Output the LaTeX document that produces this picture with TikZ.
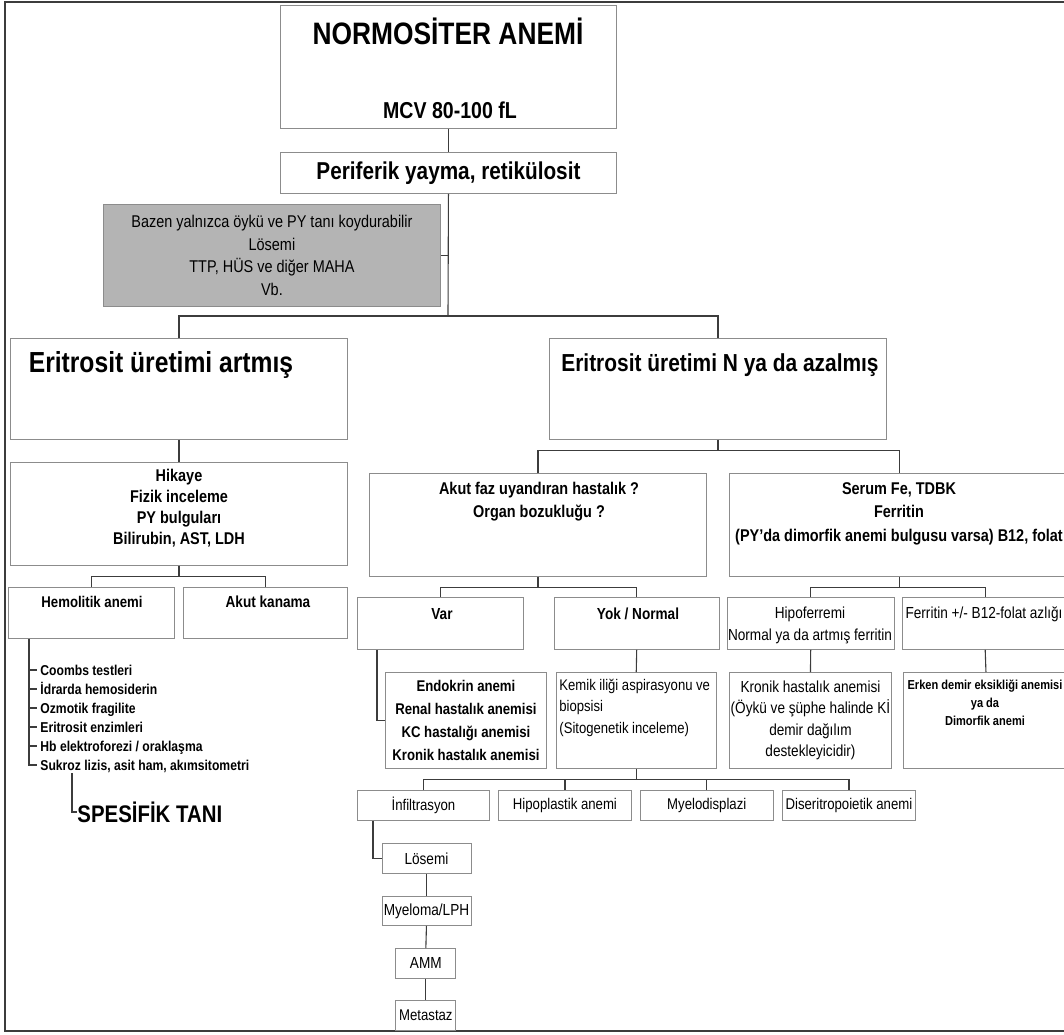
\documentclass[tikz,border=0pt]{standalone}
\usepackage{fontspec}
\setmainfont{Liberation Sans}[FakeStretch=0.85]
\begin{document}
\begin{tikzpicture}[x=1pt, y=-1pt, line width=0.9pt,
    kutu/.style={draw=kenar, anchor=north west, inner sep=0pt, align=center},
    hat/.style={draw=hatrenk, line width=1.1pt},
    yazi/.style={inner sep=0pt, align=center}]
    \definecolor{kenar}{HTML}{8C8C8C}
    \definecolor{hatrenk}{HTML}{3C3C3C}
    \definecolor{gri}{HTML}{B4B4B4}

    \useasboundingbox (0,0) rectangle (1064,1034);
    \clip (0,0) rectangle (1064,1034);
    \draw[hat, line width=1.3pt] (1070,2) -- (5,2) -- (5,1031) -- (1070,1031); % outer frame

    % top of the chart
    \node[kutu, minimum width=336, minimum height=123] (baslik) at (280,5) {};
    \node[yazi, font=\fontsize{31}{35}\selectfont\bfseries] (baslikust) at (448,31) {NORMOSİTER ANEMİ};
    \node[yazi, font=\fontsize{23}{27}\selectfont\bfseries] (mcv) at (450,110) {MCV 80-100 fL};
    \node[kutu, minimum width=336, minimum height=41, font=\fontsize{24.4}{28}\selectfont\bfseries] (peri) at (280,152) {Periferik yayma, retikülosit};
    \node[kutu, fill=gri, minimum width=337, minimum height=102, font=\fontsize{17}{22.7}\selectfont] (bazen) at (103,204)
        {Bazen yalnızca öykü ve PY tanı koydurabilir\\Lösemi\\TTP, HÜS ve diğer MAHA\\Vb.};

    \coordinate (catal1) at (448,316);
    \draw[hat] (baslik.south) -- (peri.north);
    \draw[hat] (peri.south) -- (catal1);
    \draw[hat] (bazen.east) -- (bazen.east -| catal1);

    \node[kutu, minimum width=337, minimum height=101] (artmis) at (10,338) {};
    \node[yazi, font=\fontsize{29}{33}\selectfont\bfseries] (artmisyazi) at (161,365) {Eritrosit üretimi artmış};
    \node[kutu, minimum width=337, minimum height=101] (azalmis) at (549,338) {};
    \node[yazi, font=\fontsize{24.6}{29}\selectfont\bfseries] (azalmisyazi) at (720,365) {Eritrosit üretimi N ya da azalmış};
    \draw[hat] (artmis.north) |- (catal1) -| (azalmis.north);

    % left branch
    \node[kutu, minimum width=337, minimum height=103] (hikaye) at (10,462) {};
    \node[yazi, font=\fontsize{17}{21}\selectfont\bfseries] (hikayeyazi) at (179,508.5)
        {Hikaye\\Fizik inceleme\\PY bulguları\\Bilirubin, AST, LDH};
    \draw[hat] (artmis.south) -- (hikaye.north);
    \node[kutu, minimum width=166, minimum height=51] (hemolitik) at (8,587) {};
    \node[yazi, font=\fontsize{15.5}{19}\selectfont\bfseries] (hemoyazi) at (92,602) {Hemolitik anemi};
    \node[kutu, minimum width=164, minimum height=51] (kanama) at (183,587) {};
    \node[yazi, font=\fontsize{16}{19}\selectfont\bfseries] (kanamayazi) at (268,602) {Akut kanama};
    \draw[hat] (hikaye.south) -- ++(0,11) coordinate (catal2);
    \draw[hat] (hemolitik.north) |- (catal2) -| (kanama.north);

    \coordinate (liste) at ([xshift=21]hemolitik.south west);
    \foreach \ad/\metin [count=\i from 0] in {coombs/Coombs testleri, idrar/İdrarda hemosiderin,
        ozmotik/Ozmotik fragilite, enzim/Eritrosit enzimleri, hbelek/{Hb elektroforezi / oraklaşma},
        sukroz/{Sukroz lizis, asit ham, akımsitometri}}
        \node[yazi, anchor=base west, font=\fontsize{14.3}{16}\selectfont\bfseries] (\ad) at (40,675+19*\i) {\metin};
    \foreach \ad in {coombs, idrar, ozmotik, enzim, hbelek}
        \draw[hat] ([yshift=5]\ad.base west -| liste) -- ([xshift=-3,yshift=5]\ad.base west);
    \draw[hat] (liste) |- ([xshift=-3,yshift=5]sukroz.base west);

    \node[yazi, anchor=west, font=\fontsize{24}{28}\selectfont\bfseries] (tani) at (77,812) {SPESİFİK TANI};
    \coordinate (tanibas) at (72,773);
    \draw[hat] (tanibas) |- (tani.west);

    % right branch
    \node[kutu, minimum width=337, minimum height=103] (akutfaz) at (369,473) {};
    \node[yazi, font=\fontsize{17}{23}\selectfont\bfseries] (akutfazyazi) at (539,501.5) {Akut faz uyandıran hastalık ?\\Organ bozukluğu ?};
    \node[kutu, minimum width=340, minimum height=103] (serum) at (729,473) {};
    \node[yazi, font=\fontsize{17}{23.5}\selectfont\bfseries] (serumyazi) at (899,513.5) {Serum Fe, TDBK\\Ferritin\\(PY'da dimorfik anemi bulgusu varsa) B12, folat};
    \draw[hat] (azalmis.south) -- ++(0,11) coordinate (catal3);
    \draw[hat] (akutfaz.north) |- (catal3) -| (serum.north);

    \node[kutu, minimum width=165.5, minimum height=52] (var) at (357,597) {};
    \node[yazi, font=\fontsize{16}{19}\selectfont\bfseries] (varyazi) at (442,614) {Var};
    \node[kutu, minimum width=165.5, minimum height=52] (yok) at (553.5,597) {};
    \node[yazi, font=\fontsize{16}{19}\selectfont\bfseries] (yokyazi) at (638,614) {Yok / Normal};
    \draw[hat] (akutfaz.south) -- ++(0,11) coordinate (catal4);
    \draw[hat] (var.north) |- (catal4) -| (yok.north);

    \node[kutu, minimum width=166.5, minimum height=52] (hipofer) at (727,597) {};
    \node[yazi, font=\fontsize{16}{22}\selectfont] (hipoferyazi) at (810,625) {Hipoferremi\\Normal ya da artmış ferritin};
    \node[kutu, minimum width=166.5, minimum height=52] (ferritin) at (901.5,597) {};
    \node[yazi, font=\fontsize{16}{19}\selectfont] (ferritinyazi) at (984,614) {Ferritin +/- B12-folat azlığı};
    \draw[hat] (serum.south) -- ++(0,11) coordinate (catal5);
    \draw[hat] (hipofer.north) |- (catal5) -| (ferritin.north);

    \node[kutu, minimum width=161, minimum height=96, font=\fontsize{15.5}{22.7}\selectfont\bfseries] (endokrin) at (385,672)
        {Endokrin anemi\\Renal hastalık anemisi\\KC hastalığı anemisi\\Kronik hastalık anemisi};
    \node[kutu, minimum width=160.4, minimum height=96] (kemik) at (555.6,672) {};
    \node[yazi, anchor=west, align=left, font=\fontsize{15.4}{21.5}\selectfont] (kemikyazi) at (559,707.5)
        {Kemik iliği aspirasyonu ve\\biopsisi\\(Sitogenetik inceleme)};
    \node[kutu, minimum width=162, minimum height=96, font=\fontsize{16}{21.3}\selectfont] (kronik) at (729,672)
        {Kronik hastalık anemisi\\(Öykü ve şüphe halinde Kİ\\demir dağılım\\destekleyicidir)};
    \node[kutu, minimum width=165, minimum height=96] (erken) at (903,672) {};
    \node[yazi, font=\fontsize{13}{18}\selectfont\bfseries] (erkenyazi) at (985,703) {Erken demir eksikliği anemisi\\ya da\\Dimorfik anemi};
    \draw[hat] ([xshift=20]var.south west) |- (endokrin.west);
    \draw[hat] (yok.south) -- (kemik.north);
    \draw[hat] (hipofer.south) -- (kronik.north);
    \draw[hat] (ferritin.south) -- (erken.north);

    % bone marrow results
    \node[kutu, minimum width=132, minimum height=30, font=\fontsize{15.5}{19}\selectfont] (infil) at (357,790) {İnfiltrasyon};
    \node[kutu, minimum width=133, minimum height=30, font=\fontsize{15.5}{19}\selectfont] (hipoplas) at (498,790) {Hipoplastik anemi};
    \node[kutu, minimum width=132.6, minimum height=30, font=\fontsize{15.5}{19}\selectfont] (myelod) at (640,790) {Myelodisplazi};
    \node[kutu, minimum width=133, minimum height=30, font=\fontsize{15.5}{19}\selectfont] (diserit) at (782,790) {Diseritropoietik anemi};
    \draw[hat] (kemik.south) -- ++(0,11) coordinate (catal6);
    \draw[hat] (infil.north) |- (catal6) -| (diserit.north);
    \draw[hat] (hipoplas.north) |- (catal6);
    \draw[hat] (myelod.north) |- (catal6);

    \node[kutu, minimum width=89, minimum height=30, font=\fontsize{16}{19}\selectfont] (losemi) at (381.5,843) {Lösemi};
    \node[kutu, minimum width=89, minimum height=29, font=\fontsize{16}{19}\selectfont] (myeloma) at (381.5,896) {Myeloma/LPH};
    \node[kutu, minimum width=60, minimum height=30, font=\fontsize{16}{19}\selectfont] (amm) at (395.4,948) {AMM};
    \node[kutu, minimum width=60, minimum height=30, font=\fontsize{15.5}{19}\selectfont] (metastaz) at (395.4,1000) {Metastaz};
    \draw[hat] ([xshift=16]infil.south west) |- (losemi.west);
    \draw[hat] (losemi.south) -- (myeloma.north);
    \draw[hat] (myeloma.south) -- (amm.north);
    \draw[hat] (amm.south) -- (metastaz.north);
\end{tikzpicture}
\end{document}
